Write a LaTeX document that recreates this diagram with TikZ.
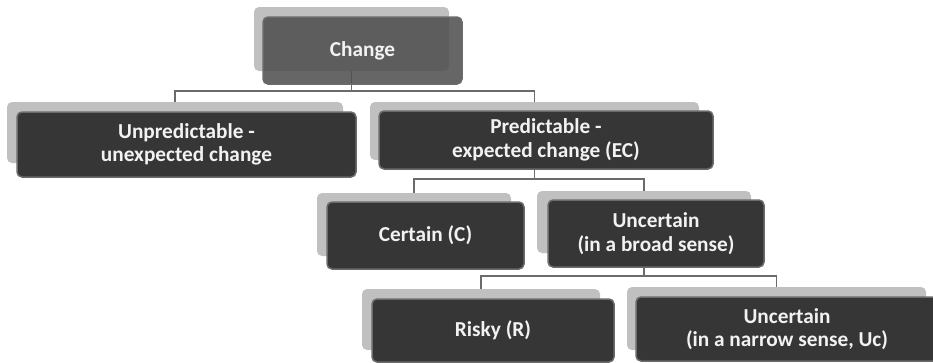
\documentclass[tikz,border=0pt]{standalone}
\usepackage{fontspec}
\setmainfont{Carlito}
\usepackage{tikz}
\usetikzlibrary{shapes}
\definecolor{backgray}{HTML}{C0C0C0}
\definecolor{boxgray}{HTML}{363636}
\definecolor{rimgray}{HTML}{6B6B6B}
\definecolor{topgray}{HTML}{4F4F4F}
\newcommand{\corner}{5pt}
\newcommand{\rim}{1.5pt}

\begin{document}
\begin{tikzpicture}[x=1pt,y=-1pt,
    backbox/.style={rectangle, rounded corners=\corner, fill=backgray, inner sep=0pt},
    frontbox/.style={rectangle, rounded corners=\corner, fill=boxgray, draw=rimgray, line width=\rim,
        inner sep=0pt, align=center, text=white!95!black,
        font=\fontsize{21.3}{23.5}\selectfont\bfseries},
    topbox/.style={frontbox, fill=topgray, fill opacity=0.87, text opacity=1},
    link/.style={draw=rimgray, line width=\rim}]
    \useasboundingbox (0,0) rectangle (933,362);
    \clip (0,0) rectangle (933,362);
    \node[backbox, minimum width=195pt, minimum height=64pt] (chgB) at (351.5,39) {};
    \node[backbox, minimum width=336pt, minimum height=61pt] (unpB) at (175,132.5) {};
    \node[backbox, minimum width=329pt, minimum height=58pt] (preB) at (534.5,131) {};
    \node[backbox, minimum width=194pt, minimum height=63pt] (cerB) at (414,224.5) {};
    \node[backbox, minimum width=214pt, minimum height=62pt] (broB) at (644,222) {};
    \node[backbox, minimum width=238pt, minimum height=61pt] (rskB) at (481,319.5) {};
    \node[backbox, minimum width=299pt, minimum height=63pt] (narB) at (776.5,318.5) {};
    \coordinate (busA) at (351.5,91);
    \coordinate (busB) at (534.5,179);
    \coordinate (busC) at (644,276);
    \draw[link] (chgB.south) -- (busA) -| (unpB.north);
    \draw[link] (busA) -| (preB.north);
    \draw[link] (preB.south) -- (busB) -| (cerB.north);
    \draw[link] (busB) -| (broB.north);
    \draw[link] (broB.south) -- (busC) -| (rskB.north);
    \draw[link] (busC) -| (narB.north);
    \node[topbox, minimum width=199pt, minimum height=67pt] (chg) at (362.5,50.5) {Change};
    \node[frontbox, minimum width=339pt, minimum height=65pt] (unp) at (186.5,144.5) {Unpredictable -\\unexpected change};
    \node[frontbox, minimum width=334pt, minimum height=58pt] (pre) at (546,140) {Predictable -\\expected change (EC)};
    \node[frontbox, minimum width=197pt, minimum height=67pt] (cer) at (425.5,235.5) {Certain (C)};
    \node[frontbox, minimum width=216pt, minimum height=67pt] (bro) at (656,233.5) {Uncertain\\(in a broad sense)};
    \node[frontbox, minimum width=242pt, minimum height=63pt] (rsk) at (493,330.5) {Risky (R)};
    \node[frontbox, minimum width=302pt, minimum height=64pt] (nar) at (787,329) {Uncertain\\(in a narrow sense, Uc)};
\end{tikzpicture}
\end{document}
